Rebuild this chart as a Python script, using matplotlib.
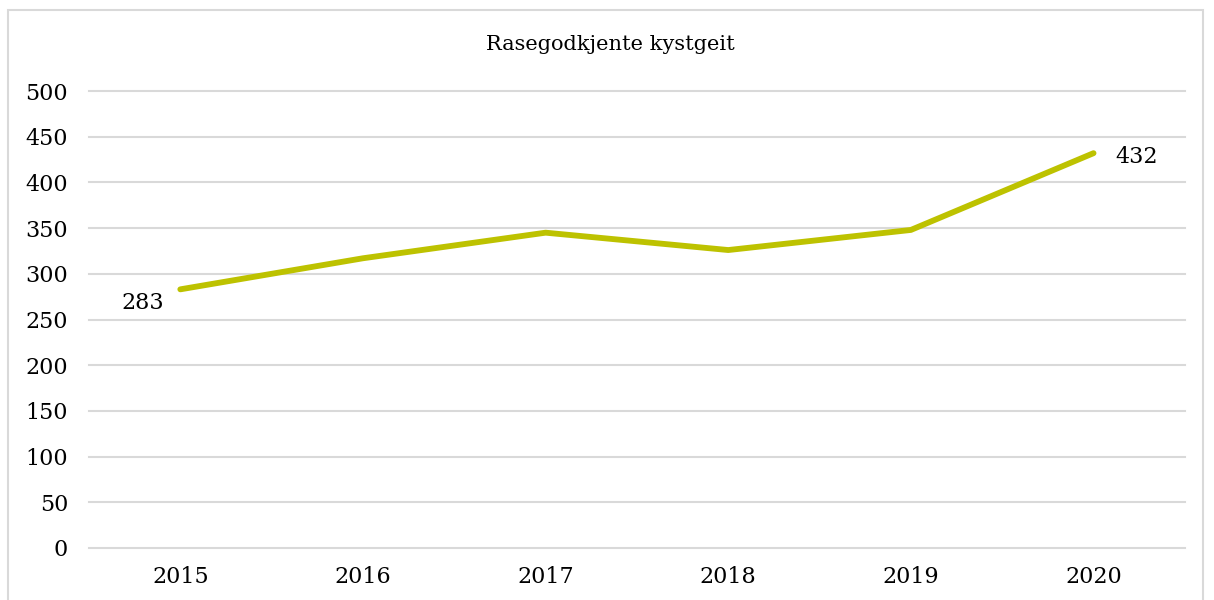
import matplotlib
matplotlib.use('Agg')
import matplotlib.pyplot as plt
from matplotlib.patches import Rectangle

years = ['2015', '2016', '2017', '2018', '2019', '2020']
counts = [283, 317, 345, 326, 348, 432]
yticks = [0, 50, 100, 150, 200, 250, 300, 350, 400, 450, 500]

line_color = '#BDC200'
grid_color = '#D9D9D9'

plt.rcParams['font.family'] = ['DejaVu Serif']

fig = plt.figure(figsize=(12.14, 6.00), dpi=100)
ax = fig.add_axes([0.0733, 0.0867, 0.9027, 0.7616])

# light frame around the whole chart
fig.patches.append(Rectangle((8 / 1214, -0.05), 1195 / 1214, 1.05 - 10 / 600,
                             transform=fig.transFigure, fill=False,
                             edgecolor=grid_color, linewidth=1.5))

x = list(range(len(years)))
ax.plot(x, counts, color=line_color, linewidth=4.2, solid_capstyle='round',
        solid_joinstyle='round', zorder=3)

ax.set_xlim(-0.5, len(years) - 0.5)
ax.set_ylim(0, 500)
ax.set_yticks(yticks)
ax.set_xticks(x)
ax.set_xticklabels(years)
ax.grid(axis='y', color=grid_color, linewidth=1.5)
for gl in ax.get_ygridlines():
    gl.set_clip_on(False)
ax.set_axisbelow(True)
for s in ax.spines.values():
    s.set_visible(False)
ax.tick_params(axis='both', length=0, labelsize=16, colors='#000000')
ax.tick_params(axis='y', pad=15)
ax.tick_params(axis='x', pad=13)

# data labels for first and last point
ax.annotate(str(counts[0]), (x[0], counts[0]), xytext=(-27, -10),
            textcoords='offset points', ha='center', va='center', fontsize=16)
ax.annotate(str(counts[-1]), (x[-1], counts[-1]), xytext=(31, -3),
            textcoords='offset points', ha='center', va='center', fontsize=16)

fig.text(0.5025, 0.925, 'Rasegodkjente kystgeit', ha='center', va='center',
         fontsize=15)

fig.savefig('out.png', dpi=100)
